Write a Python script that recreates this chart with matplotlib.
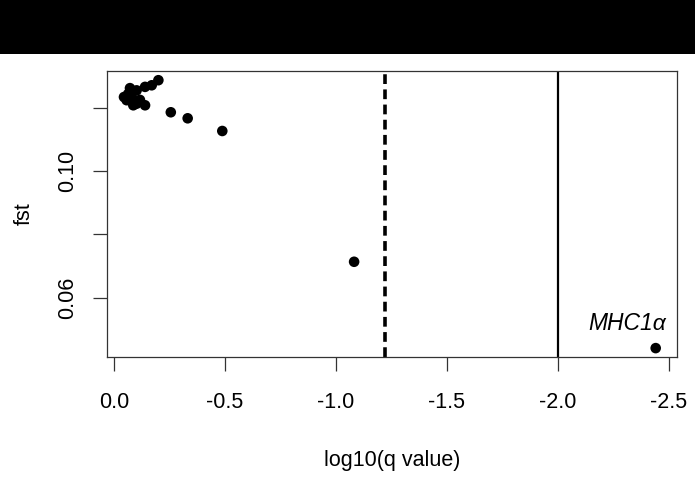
import matplotlib
matplotlib.use("Agg")
import matplotlib.pyplot as plt
from matplotlib.patches import Rectangle

plt.rcParams['font.family'] = ['Liberation Sans', 'DejaVu Sans']

# data (log10 q value, fst)
log_q = [-0.200, -0.170, -0.140, -0.102, -0.064, -0.057, -0.080, -0.087, -0.102,
         -0.140, -0.117, -0.045, -0.072, -0.256, -0.332, -0.488, -1.082, -2.441]
fst = [0.1286, 0.1270, 0.1265, 0.1254, 0.1243, 0.1223, 0.1233, 0.1207, 0.1212,
       0.1207, 0.1224, 0.1233, 0.1261, 0.1185, 0.1166, 0.1126, 0.0714, 0.0442]
dashed_threshold = -1.22
solid_threshold = -2.0
label_text = "MHC1α"
label_pos = (-2.312, 0.0499)
x_ticks = [0.0, -0.5, -1.0, -1.5, -2.0, -2.5]
x_ticklabels = ["0.0", "-0.5", "-1.0", "-1.5", "-2.0", "-2.5"]
y_ticks = [0.06, 0.08, 0.10, 0.12]
y_ticklabels = ["0.06", "", "0.10", ""]

FS = 15.5

fig = plt.figure(figsize=(6.95, 4.97), dpi=100)
fig.patches.append(Rectangle((0, 1 - 54 / 497), 1, 54 / 497, transform=fig.transFigure,
                             facecolor='black', edgecolor='none', zorder=0))
ax = fig.add_axes([107 / 695, 1 - 357 / 497, (677 - 107) / 695, (357 - 71) / 497])

ax.scatter(log_q, fst, s=58, color='black', edgecolors='none', zorder=3)
ax.axvline(dashed_threshold, color='black', lw=2.6, linestyle=(0, (2.7, 1.5)))
ax.axvline(solid_threshold, color='black', lw=1.6)
ax.text(label_pos[0], label_pos[1], label_text, fontsize=16.5, fontstyle='italic',
        ha='center', va='baseline')

ax.set_xlim(0.0315, -2.537)
ax.set_ylim(0.0414, 0.1315)
ax.set_xticks(x_ticks)
ax.set_xticklabels(x_ticklabels)
ax.set_yticks(y_ticks)
ax.set_yticklabels(y_ticklabels, rotation=90, va='center')
ax.tick_params(axis='both', length=10, width=0.9, color='#333333', labelsize=FS)
ax.tick_params(axis='x', pad=15)
ax.tick_params(axis='y', pad=11)
for sp in ax.spines.values():
    sp.set_linewidth(0.9)
    sp.set_color('#333333')

ax.set_xlabel("log10(q value)", fontsize=FS, labelpad=27)
ax.set_ylabel("fst", fontsize=FS, labelpad=16)

fig.savefig("out.png", dpi=100)
